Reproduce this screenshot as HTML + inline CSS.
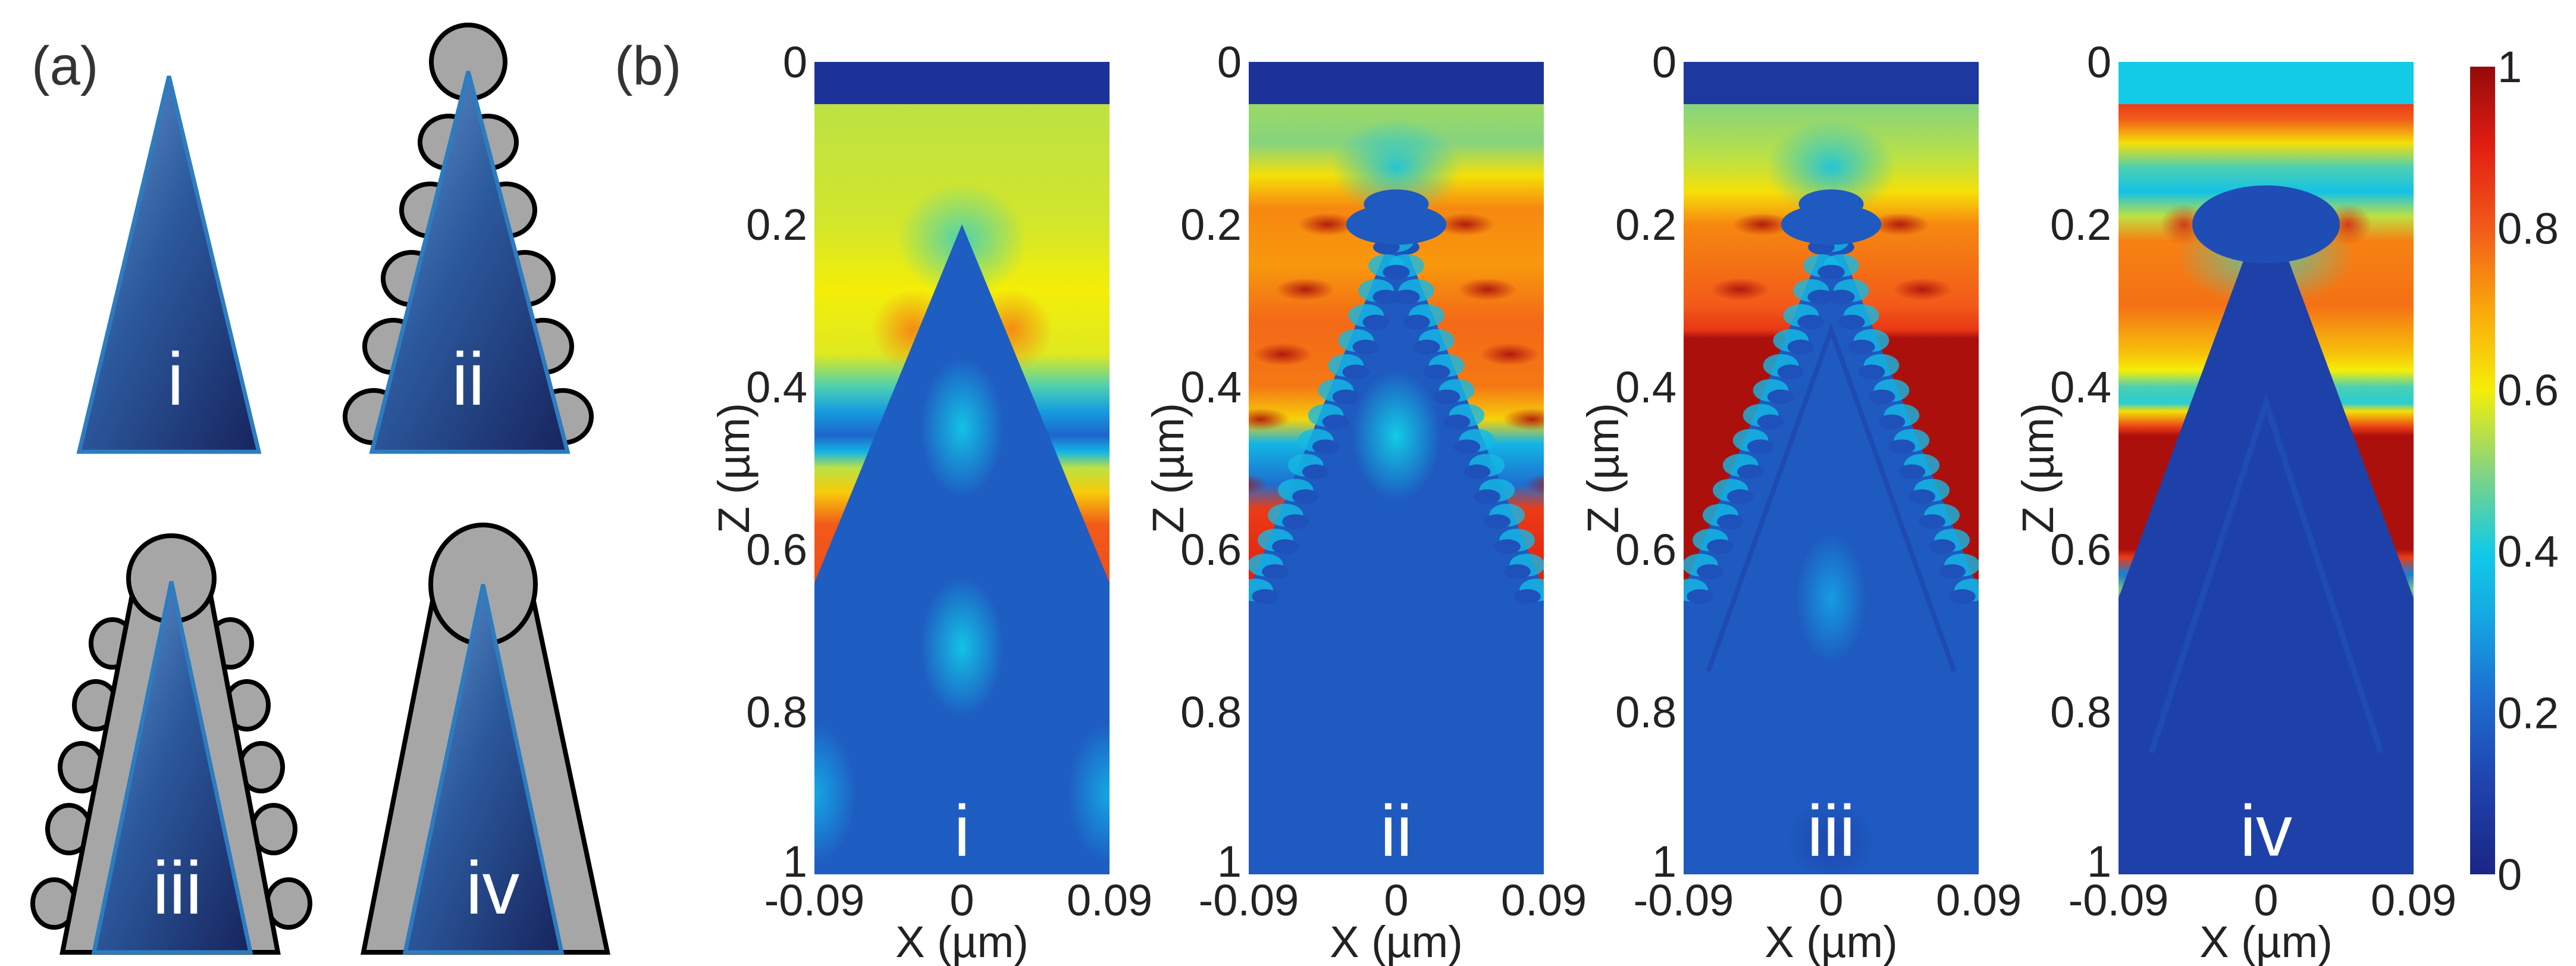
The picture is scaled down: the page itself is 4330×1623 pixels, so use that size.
<!DOCTYPE html>
<html><head><meta charset="utf-8"><style>
html,body{margin:0;padding:0;background:#fff;}
svg{display:block;}
text{font-family:"Liberation Sans Narrow","Liberation Sans",sans-serif;}
</style></head><body>
<svg id="fig" width="4330" height="1623" viewBox="0 0 4330 1623" xmlns="http://www.w3.org/2000/svg">
<defs>
<linearGradient id="tri" x1="0" y1="0" x2="1" y2="1">
<stop offset="0" stop-color="#6a9fd4"/><stop offset="0.45" stop-color="#2c5a9e"/><stop offset="1" stop-color="#17245e"/>
</linearGradient>
</defs>
<g id="panelA">
<text x="53" y="142" font-size="92" fill="#333" style="font-family:'Liberation Sans',sans-serif">(a)</text>
<g>
<polygon points="284,128 435,759 133,759" fill="url(#tri)" stroke="#2e7cc0" stroke-width="7"/>
<text x="295" y="680" font-size="125" fill="#fff" text-anchor="middle" style="font-family:'Liberation Sans',sans-serif">i</text>
</g>
<g fill="#a6a6a6" stroke="#000" stroke-width="8">
<circle cx="787" cy="104" r="62"/>
<ellipse cx="754" cy="239" rx="48" ry="44"/><ellipse cx="723" cy="353" rx="48" ry="44"/><ellipse cx="692" cy="468" rx="48" ry="44"/><ellipse cx="661" cy="582" rx="48" ry="44"/><ellipse cx="628" cy="700" rx="48" ry="44"/>
<ellipse cx="820" cy="239" rx="48" ry="44"/><ellipse cx="851" cy="353" rx="48" ry="44"/><ellipse cx="882" cy="468" rx="48" ry="44"/><ellipse cx="913" cy="582" rx="48" ry="44"/><ellipse cx="946" cy="700" rx="48" ry="44"/>
<polygon points="787,120 954,759 625,759" fill="url(#tri)" stroke="#2e7cc0" stroke-width="7"/>
<text x="787" y="680" font-size="125" fill="#fff" stroke="none" text-anchor="middle" style="font-family:'Liberation Sans',sans-serif">ii</text>
</g>
<g fill="#a6a6a6" stroke="#000" stroke-width="8">
<ellipse cx="189" cy="1081" rx="36" ry="40"/><ellipse cx="161" cy="1185" rx="36" ry="40"/><ellipse cx="137" cy="1289" rx="36" ry="40"/><ellipse cx="116" cy="1393" rx="36" ry="40"/><ellipse cx="91" cy="1518" rx="36" ry="40"/>
<ellipse cx="387" cy="1081" rx="36" ry="40"/><ellipse cx="415" cy="1185" rx="36" ry="40"/><ellipse cx="439" cy="1289" rx="36" ry="40"/><ellipse cx="460" cy="1393" rx="36" ry="40"/><ellipse cx="485" cy="1518" rx="36" ry="40"/>
<polygon points="222,1000 354,1000 467,1600 105,1600"/>
<circle cx="288" cy="972" r="72"/>
<polygon points="288,977 421,1600 158,1600" fill="url(#tri)" stroke="#2e7cc0" stroke-width="7"/>
<text x="298" y="1535" font-size="125" fill="#fff" stroke="none" text-anchor="middle" style="font-family:'Liberation Sans',sans-serif">iii</text>
</g>
<g fill="#a6a6a6" stroke="#000" stroke-width="8">
<polygon points="727,1010 897,1010 1021,1600 611,1600"/>
<ellipse cx="812" cy="982" rx="88" ry="100"/>
<polygon points="812,982 944,1600 681,1600" fill="url(#tri)" stroke="#2e7cc0" stroke-width="7"/>
<text x="828" y="1535" font-size="125" fill="#fff" stroke="none" text-anchor="middle" style="font-family:'Liberation Sans',sans-serif">iv</text>
</g>
</g>
<text x="1033" y="142" font-size="92" fill="#333" style="font-family:'Liberation Sans',sans-serif">(b)</text>
<g id="maps"></g>
</svg>
<script>
// ---- data ----
const zTicks=[0,0.2,0.4,0.6,0.8,1];
const zTickLabels=['0','0.2','0.4','0.6','0.8','1'];
const xTicks=[-0.09,0,0.09];
const xTickLabels=['-0.09','0','0.09'];
const cbTicks=[0,0.2,0.4,0.6,0.8,1];
const cbTickLabels=['0','0.2','0.4','0.6','0.8','1'];
const panelNames=['i','ii','iii','iv'];
const topBandValues=[0.05,0.05,0.07,0.4];
const fieldI=[[0.052,0.55],[0.2,0.57],[0.28,0.6],[0.36,0.58],[0.4,0.45],[0.43,0.3],[0.46,0.2],[0.48,0.35],[0.5,0.55],[0.53,0.65],[0.57,0.8],[0.64,0.82],[0.645,0.2],[0.9,0.3],[1,0.2]];
const fieldII=[[0.052,0.52],[0.1,0.5],[0.14,0.62],[0.18,0.74],[0.25,0.72],[0.32,0.78],[0.4,0.76],[0.44,0.64],[0.47,0.35],[0.52,0.22],[0.55,0.85],[0.64,0.9],[0.65,0.18],[1,0.18]];
const fieldIII=[[0.052,0.5],[0.12,0.55],[0.16,0.62],[0.2,0.74],[0.3,0.8],[0.33,0.86],[0.34,0.97],[0.645,0.97],[0.65,0.18],[1,0.18]];
const fieldIV=[[0.052,0.85],[0.07,0.8],[0.1,0.62],[0.13,0.45],[0.16,0.38],[0.19,0.55],[0.22,0.75],[0.3,0.77],[0.36,0.66],[0.38,0.6],[0.4,0.45],[0.42,0.42],[0.43,0.62],[0.45,0.85],[0.46,0.97],[0.6,0.97],[0.61,0.85],[0.63,0.25],[0.66,0.12],[1,0.12]];
const fields=[fieldI,fieldII,fieldIII,fieldIV];
const coneValues=[0.18,0.17,0.17,0.1];
const blobsI=[[0,0.45,0.38],[0,0.72,0.38],[-0.09,0.9,0.32],[0.09,0.9,0.32]];
// colormap
const cmapStops=[[0,'#1b2586'],[0.12,'#1f45b0'],[0.22,'#1d6ed0'],[0.32,'#14a8e4'],[0.4,'#12cbe6'],[0.5,'#86d47e'],[0.6,'#f4ee08'],[0.7,'#f9a70a'],[0.8,'#f25a1a'],[0.9,'#e21e12'],[1,'#950a0a']];
function hex(c){return [parseInt(c.slice(1,3),16),parseInt(c.slice(3,5),16),parseInt(c.slice(5,7),16)];}
function cmap(v){v=Math.max(0,Math.min(1,v));for(let i=1;i<cmapStops.length;i++){if(v<=cmapStops[i][0]){const a=cmapStops[i-1],b=cmapStops[i];const t=(v-a[0])/(b[0]-a[0]);const A=hex(a[1]),B=hex(b[1]);return 'rgb('+A.map((x,k)=>Math.round(x+(B[k]-x)*t)).join(',')+')';}}return cmapStops[cmapStops.length-1][1];}
// ---- layout ----
const NS='http://www.w3.org/2000/svg';
const svg=document.getElementById('fig');
const maps=document.getElementById('maps');
const defs=svg.querySelector('defs');
const panelLefts=[1369,2099,2830,3561];
const PW=496, PT=104, PH=1365;
function mk(tag,attrs,parent){const e=document.createElementNS(NS,tag);for(const k in attrs)e.setAttribute(k,attrs[k]);if(parent)parent.appendChild(e);return e;}
function sxf(L){return x=>L+(x+0.09)/0.18*PW;}
function sz(z){return PT+z*PH;}
function radial(id,v,op){const g=mk('radialGradient',{id:id},defs);mk('stop',{offset:'0','stop-color':cmap(v),'stop-opacity':op},g);mk('stop',{offset:'1','stop-color':cmap(v),'stop-opacity':0},g);return 'url(#'+id+')';}

panelNames.forEach((nm,p)=>{
  const L=panelLefts[p], sx=sxf(L), W=PW;
  const g=mk('g',{},maps);
  
  
  const cp=mk('clipPath',{id:'cp'+p},defs);
  mk('rect',{x:L,y:PT,width:W,height:PH},cp);
  const gi=mk('g',{'clip-path':'url(#cp'+p+')'},g);
  const lg=mk('linearGradient',{id:'bg'+p,x1:0,y1:PT,x2:0,y2:PT+PH,gradientUnits:'userSpaceOnUse'},defs);
  fields[p].forEach(s=>{mk('stop',{offset:s[0],'stop-color':cmap(s[1])},lg);});
  const bg=mk('rect',{x:L,y:PT,width:W,height:PH,fill:'url(#bg'+p+')'},gi);
  
  
  const cv=cmap(coneValues[p]);
  if(p===0){
    mk('ellipse',{cx:sx(0),cy:sz(0.22),rx:W*0.22,ry:PH*0.07,fill:radial('cI',0.42,0.8)},gi);
    mk('ellipse',{cx:sx(-0.03),cy:sz(0.33),rx:W*0.14,ry:PH*0.05,fill:radial('oL',0.75,0.9)},gi);
    mk('ellipse',{cx:sx(0.03),cy:sz(0.33),rx:W*0.14,ry:PH*0.05,fill:radial('oR',0.75,0.9)},gi);
    mk('polygon',{points:[sx(0),sz(0.2),sx(0.09),sz(0.641),sx(0.09),sz(1),sx(-0.09),sz(1),sx(-0.09),sz(0.641)].join(' '),fill:cv},gi);
    blobsI.forEach((b,k)=>{const e=mk('ellipse',{cx:sx(b[0]),cy:sz(b[1]),rx:W*0.14,ry:PH*0.085,fill:radial('bI'+k,b[2],1)},gi);
      });
  } else if(p===1||p===2){
    mk('ellipse',{cx:sx(0),cy:sz(0.13),rx:W*0.22,ry:PH*0.06,fill:radial('cc'+p,0.38,0.9)},gi);
    const zs=[0.2,0.28,0.36,0.44,0.52,0.6];
    zs.forEach((z,k)=>{[-1,1].forEach((sd,j)=>{
      const xo=0.012+(z-0.2)*0.17;
      mk('ellipse',{cx:sx(sd*(xo+0.03)),cy:sz(z),rx:W*0.1,ry:PH*0.014,fill:radial('lr'+p+'_'+k+'_'+j,0.97,0.9)},gi);});});
    const apex=0.2;
    mk('polygon',{points:[sx(0),sz(apex),sx(0.09),sz(0.65),sx(0.09),sz(1),sx(-0.09),sz(1),sx(-0.09),sz(0.65)].join(' '),fill:cv},gi);
    const n=15;
    for(let k=0;k<n;k++){const z=0.22+k*(0.43/(n-1));const xo=(z-0.2)/0.45*0.09;
      [-1,1].forEach(sd=>{
        mk('ellipse',{cx:sx(sd*(xo-0.004)),cy:sz(z),rx:W*0.06,ry:PH*0.014,fill:cmap(0.36),opacity:0.8},gi);
        mk('ellipse',{cx:sx(sd*(xo-0.01)),cy:sz(z+0.008),rx:W*0.045,ry:PH*0.009,fill:cmap(0.15)},gi);});}
    mk('ellipse',{cx:sx(0),cy:sz(0.2),rx:W*0.17,ry:PH*0.025,fill:cv},gi);
    mk('ellipse',{cx:sx(0),cy:sz(0.175),rx:W*0.11,ry:PH*0.018,fill:cv},gi);
    if(p===1){const e=mk('ellipse',{cx:sx(0),cy:sz(0.46),rx:W*0.15,ry:PH*0.08,fill:radial('bII',0.4,1)},gi);}
    else{
      mk('polyline',{points:[sx(-0.075),sz(0.75),sx(0),sz(0.33),sx(0.075),sz(0.75)].join(' '),fill:'none',stroke:cmap(0.08),'stroke-width':8,opacity:0.5},gi);
      const e=mk('ellipse',{cx:sx(0),cy:sz(0.66),rx:W*0.12,ry:PH*0.08,fill:radial('bIII',0.3,1)},gi);
      mk('ellipse',{cx:sx(0.0),cy:sz(0.96),rx:W*0.15,ry:PH*0.05,fill:radial('dIII',0.08,0.6)},gi);
    }
  } else {
    mk('ellipse',{cx:sx(0),cy:sz(0.24),rx:W*0.3,ry:PH*0.06,fill:radial('hIV',0.45,0.9)},gi);
    mk('ellipse',{cx:sx(-0.05),cy:sz(0.2),rx:W*0.08,ry:PH*0.025,fill:radial('rL',0.92,0.8)},gi);
    mk('ellipse',{cx:sx(0.05),cy:sz(0.2),rx:W*0.08,ry:PH*0.025,fill:radial('rR',0.92,0.8)},gi);
    [-1,1].forEach((sd,k)=>{mk('ellipse',{cx:sx(sd*0.09),cy:sz(0.65),rx:W*0.05,ry:PH*0.02,fill:radial('eIV'+k,0.5,1)},gi);});
    mk('polygon',{points:[sx(-0.012),sz(0.235),sx(0.012),sz(0.235),sx(0.09),sz(0.66),sx(0.09),sz(1),sx(-0.09),sz(1),sx(-0.09),sz(0.66)].join(' '),fill:cv},gi);
    mk('ellipse',{cx:sx(0),cy:sz(0.2),rx:W*0.25,ry:PH*0.048,fill:cmap(0.14)},gi);
    mk('polyline',{points:[sx(-0.07),sz(0.85),sx(0),sz(0.42),sx(0.07),sz(0.85)].join(' '),fill:'none',stroke:cmap(0.16),'stroke-width':10,opacity:0.6},gi);
  }
  const band=mk('rect',{x:L,y:PT,width:W,height:0.052*PH,fill:cmap(topBandValues[p])},gi);
  
  
  const lab=mk('text',{x:sx(0),y:sz(0.977),'font-size':122,fill:'#fff','text-anchor':'middle',style:"font-family:'Liberation Sans',sans-serif"},g);
  lab.textContent=nm;
  
  
  zTicks.forEach((t,k)=>{const tx=mk('text',{x:L-12,y:sz(t)+26,'font-size':74,fill:'#222','text-anchor':'end'},g);tx.textContent=zTickLabels[k];
    if(k===zTicks.length-1)tx.setAttribute('y',sz(t)+4);
    });
  xTicks.forEach((t,k)=>{const tx=mk('text',{x:sx(t),y:1538,'font-size':74,fill:'#222','text-anchor':'middle'},g);tx.textContent=xTickLabels[k];
    });
  const xl=mk('text',{x:sx(0),y:1608,'font-size':74,fill:'#222','text-anchor':'middle'},g);xl.textContent='X (\u00b5m)';
  
  const zl=mk('text',{x:0,y:0,'font-size':74,fill:'#222','text-anchor':'middle',transform:'translate('+(L-110)+','+(sz(0.5))+') rotate(-90)'},g);zl.textContent='Z (\u00b5m)';
  
});
// colorbar
const CBX=4152, CBW=42, CBT=112, CBH=1357;
const cg=mk('g',{},svg);


const cgr=mk('linearGradient',{id:'cbg',x1:0,y1:1,x2:0,y2:0},defs);
cmapStops.forEach(s=>mk('stop',{offset:s[0],'stop-color':s[1]},cgr));
mk('rect',{x:CBX,y:CBT,width:CBW,height:CBH,fill:'url(#cbg)'},cg);
cbTicks.forEach((t,k)=>{const y=CBT+(1-t)*CBH;const tx=mk('text',{x:CBX+CBW+4,y:y+26,'font-size':74,fill:'#222'},cg);tx.textContent=cbTickLabels[k];
  });
</script>
</body></html>
